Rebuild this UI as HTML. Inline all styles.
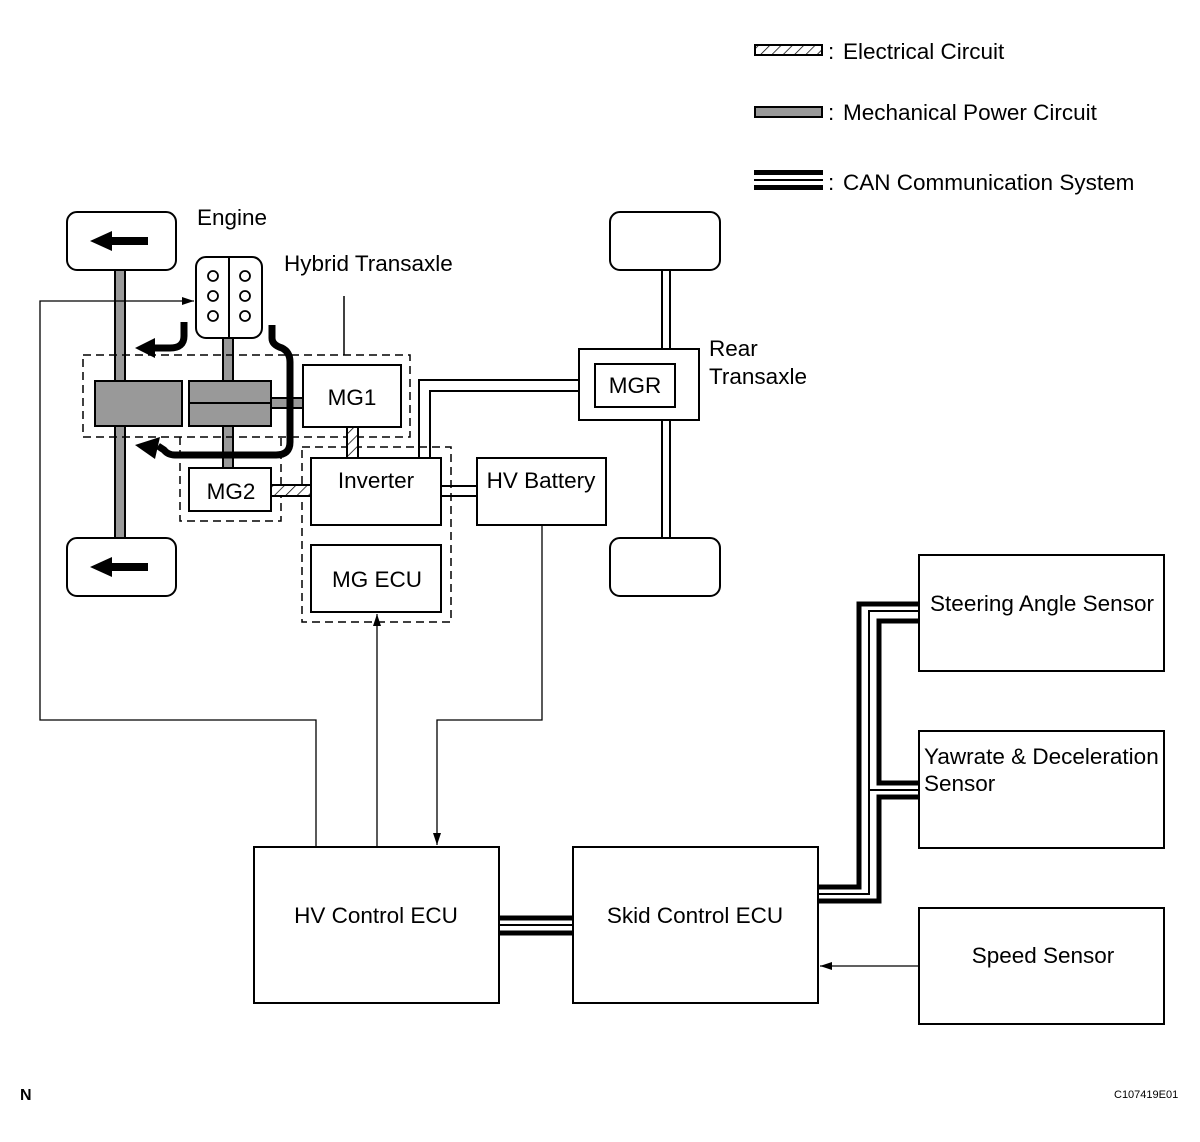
<!DOCTYPE html>
<html><head><meta charset="utf-8"><style>
html,body{margin:0;padding:0;background:#fff}
svg{display:block}
text{font-family:"Liberation Sans",Arial,sans-serif;fill:#000}
</style></head><body>
<svg width="1200" height="1142" viewBox="0 0 1200 1142" xmlns="http://www.w3.org/2000/svg">
<defs>
<pattern id="hatch" width="8" height="8" patternUnits="userSpaceOnUse" patternTransform="rotate(45)">
<rect width="8" height="8" fill="#fff"/><line x1="0" y1="0" x2="0" y2="8" stroke="#000" stroke-width="1.5"/>
</pattern>
<marker id="ah" markerWidth="12" markerHeight="8" refX="12" refY="4" orient="auto" markerUnits="userSpaceOnUse">
<path d="M0,0 L12,4 L0,8 Z" fill="#000"/></marker>
</defs>
<g fill="none" stroke="#000" stroke-width="2">
<rect x="755" y="45" width="67" height="10" fill="url(#hatch)"/>
<rect x="755" y="107" width="67" height="10" fill="#999"/>
</g>
<rect x="754" y="170" width="69" height="5" fill="#000"/>
<rect x="754" y="179" width="69" height="2" fill="#000"/>
<rect x="754" y="185" width="69" height="5" fill="#000"/>
<g font-size="22.5">
<text x="828" y="59">:</text><text x="843" y="59">Electrical Circuit</text>
<text x="828" y="120">:</text><text x="843" y="120">Mechanical Power Circuit</text>
<text x="828" y="190">:</text><text x="843" y="190">CAN Communication System</text>
</g>

<g fill="#999" stroke="#000" stroke-width="2">
<rect x="115" y="270" width="10" height="268"/>
<rect x="223" y="338" width="10" height="130"/>
<rect x="271" y="398" width="32" height="10"/>
<rect x="95" y="381" width="87" height="45"/>
<rect x="189" y="381" width="82" height="45"/>
</g>
<line x1="189" y1="403" x2="271" y2="403" stroke="#000" stroke-width="2"/>

<g fill="#fff" stroke="#000" stroke-width="2">
<rect x="67" y="212" width="109" height="58" rx="10"/>
<rect x="67" y="538" width="109" height="58" rx="10"/>
<rect x="610" y="212" width="110" height="58" rx="10"/>
<rect x="610" y="538" width="110" height="58" rx="10"/>
<rect x="196" y="257" width="66" height="81" rx="10"/>
</g>
<line x1="229" y1="257" x2="229" y2="338" stroke="#000" stroke-width="2"/>
<g fill="#fff" stroke="#000" stroke-width="1.8">
<circle cx="213" cy="276" r="5"/><circle cx="213" cy="296" r="5"/><circle cx="213" cy="316" r="5"/>
<circle cx="245" cy="276" r="5"/><circle cx="245" cy="296" r="5"/><circle cx="245" cy="316" r="5"/>
</g>
<path d="M148,237 H112 V231 L90,241 L112,251 V245 H148 Z" fill="#000"/>
<path d="M148,563 H112 V557 L90,567 L112,577 V571 H148 Z" fill="#000"/>

<g fill="none" stroke="#000" stroke-width="1.5" stroke-dasharray="8,5">
<rect x="83" y="355" width="327" height="82"/>
<rect x="302" y="447" width="149" height="175"/>
<path d="M180,437 V521 H281 V437"/>
</g>
<line x1="344" y1="296" x2="344" y2="355" stroke="#000" stroke-width="1.5"/>

<g fill="none" stroke="#000" stroke-width="7">
<path d="M184,322 V336 Q184,348 170,348 H150"/>
<path d="M272,325 V338 Q272,345 282,348 Q290,352 290,362 V442 Q290,455 276,455 H175 Q168,455 164,450 L158,446"/>
</g>
<path d="M155,338 L135,348 L155,358 Z" fill="#000"/>
<path d="M160,437 L135,445 L155,459 Z" fill="#000"/>

<g fill="none" stroke="#000" stroke-width="2">
<path d="M419,458 V380 H595"/>
<path d="M430,458 V391 H595"/>
<path d="M441,486 H477 M441,496 H477"/>
<path d="M662,270 V349 M670,270 V349 M662,420 V538 M670,420 V538"/>
</g>
<g stroke="#000" stroke-width="2">
<rect x="347" y="427" width="11" height="31" fill="url(#hatch)"/>
<rect x="271" y="485" width="40" height="11" fill="url(#hatch)"/>
</g>

<g fill="#fff" stroke="#000" stroke-width="2">
<rect x="303" y="365" width="98" height="62"/>
<rect x="189" y="468" width="82" height="43"/>
<rect x="311" y="458" width="130" height="67"/>
<rect x="311" y="545" width="130" height="67"/>
<rect x="477" y="458" width="129" height="67"/>
<rect x="579" y="349" width="120" height="71"/>
<rect x="595" y="364" width="80" height="43"/>
<rect x="254" y="847" width="245" height="156"/>
<rect x="573" y="847" width="245" height="156"/>
<rect x="919" y="555" width="245" height="116"/>
<rect x="919" y="731" width="245" height="117"/>
<rect x="919" y="908" width="245" height="116"/>
</g>

<g fill="none" stroke="#000" stroke-width="1.3">
<path d="M316,847 V720 H40 V301 H194" marker-end="url(#ah)"/>
<path d="M377,847 V614" marker-end="url(#ah)"/>
<path d="M542,525 V720 H437 V845" marker-end="url(#ah)"/>
<path d="M919,966 H820" marker-end="url(#ah)"/>
</g>

<g fill="none" stroke="#000">
<path d="M499,918 H573" stroke-width="5"/>
<path d="M499,925 H573" stroke-width="2"/>
<path d="M499,933 H573" stroke-width="5"/>
<path d="M818,887 H859 V604 H919" stroke-width="5"/>
<path d="M818,894 H869 V611 H919 M869,790 H919" stroke-width="2"/>
<path d="M818,901 H879 V797 H919" stroke-width="5"/>
<path d="M919,621 H879 V783 H919" stroke-width="5"/>
</g>

<g font-size="22.5">
<text x="197" y="225">Engine</text>
<text x="284" y="271">Hybrid Transaxle</text>
<text x="352" y="405" text-anchor="middle">MG1</text>
<text x="231" y="499" text-anchor="middle">MG2</text>
<text x="376" y="488" text-anchor="middle">Inverter</text>
<text x="377" y="587" text-anchor="middle">MG ECU</text>
<text x="541" y="488" text-anchor="middle">HV Battery</text>
<text x="635" y="393" text-anchor="middle">MGR</text>
<text x="709" y="356">Rear</text>
<text x="709" y="384">Transaxle</text>
<text x="376" y="923" text-anchor="middle">HV Control ECU</text>
<text x="695" y="923" text-anchor="middle">Skid Control ECU</text>
<text x="1042" y="611" text-anchor="middle">Steering Angle Sensor</text>
<text x="924" y="764">Yawrate &amp; Deceleration</text>
<text x="924" y="791">Sensor</text>
<text x="1043" y="963" text-anchor="middle">Speed Sensor</text>
</g>
<text x="20" y="1100" font-size="16" font-weight="bold">N</text>
<text x="1114" y="1098" font-size="11">C107419E01</text>
</svg>
</body></html>
